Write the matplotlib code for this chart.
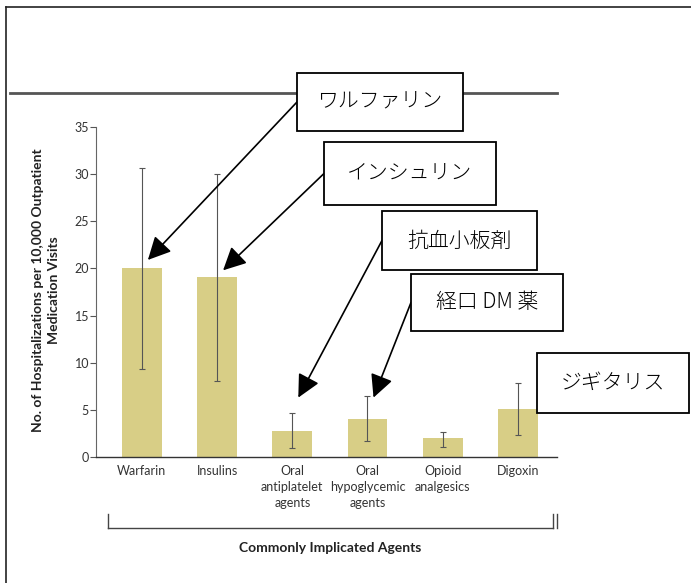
import matplotlib
matplotlib.use("Agg")
import matplotlib.pyplot as plt
from matplotlib.lines import Line2D
from matplotlib.patches import Rectangle

plt.rcParams['font.family'] = ['Lato', 'DejaVu Sans']

# hospitalizations per 10,000 outpatient medication visits
agents = ["Warfarin", "Insulins", "Oral\nantiplatelet\nagents",
          "Oral\nhypoglycemic\nagents", "Opioid\nanalgesics", "Digoxin"]
rates = [20.0, 19.1, 2.8, 4.0, 2.0, 5.1]
ci_low = [9.3, 8.1, 1.0, 1.7, 1.1, 2.3]
ci_high = [30.6, 30.0, 4.7, 6.5, 2.7, 7.8]
yticks = [0, 5, 10, 15, 20, 25, 30, 35]

# japanese callouts: text, box (left, top, right, bottom) in image pixels,
# index of the bar it points to (None = no arrow) and arrow tip height
callouts = ["ワルファリン", "インシュリン", "抗血小板剤", "経口 DM 薬", "ジギタリス"]
callout_boxes = [(297, 73, 463, 131), (324, 142, 496, 205), (382, 211, 537, 270),
                 (411, 274, 563, 331), (537, 353, 689, 413)]
callout_target = [0, 1, 2, 3, None]
callout_tip_y = [20.9, 19.8, 6.3, 6.3, None]

W, H = 691, 583
fig = plt.figure(figsize=(W / 100, H / 100), dpi=100)

def px(x, y):
    # image pixel (top-left origin) -> figure fraction
    return x / W, 1 - y / H

ax = fig.add_axes([96 / W, (H - 457) / H, (557 - 96) / W, (457 - 127) / H])
pos = list(range(len(agents)))
lo = [r - l for r, l in zip(rates, ci_low)]
hi = [h - r for r, h in zip(rates, ci_high)]
ax.bar(pos, rates, width=0.53, color="#d8ce86", zorder=1)
ax.errorbar(pos, rates, yerr=[lo, hi], fmt="none", ecolor="#555555",
            elinewidth=0.8, capsize=2.5, capthick=0.8, zorder=2)

ax.set_xlim(-0.61, 5.52)
ax.set_ylim(0, 35)
ax.set_yticks(yticks)
ax.set_xticks(pos)
ax.set_xticklabels(agents, fontsize=9, color="#333333", linespacing=1.4)
ax.tick_params(axis="x", length=0, pad=6)
ax.tick_params(axis="y", length=4, width=0.8, color="#555555",
               labelsize=9, labelcolor="#333333", pad=1)
for s in ["top", "right"]:
    ax.spines[s].set_visible(False)
ax.spines["left"].set_color("#666666")
ax.spines["left"].set_linewidth(0.8)
ax.spines["bottom"].set_color("#333333")
ax.spines["bottom"].set_linewidth(1.0)

fig.text(*px(46, 290), "No. of Hospitalizations per 10,000 Outpatient\nMedication Visits",
         rotation=90, ha="center", va="center", fontsize=10, fontweight="bold",
         color="#222222", linespacing=1.35)

# bracket under the category labels
bx0, bx1, by, btop = 108, 553, 528, 514
fig.add_artist(Line2D([px(bx0, by)[0], px(bx1, by)[0]], [px(bx0, by)[1]] * 2,
                      color="#444444", lw=1.0))
for x in (bx0, bx1, bx1 + 4):
    fig.add_artist(Line2D([px(x, by)[0]] * 2, [px(x, by)[1], px(x, btop)[1]],
                          color="#444444", lw=1.0))
fig.text(*px(330, 548), "Commonly Implicated Agents", ha="center", va="center",
         fontsize=10, fontweight="bold", color="#222222")

# frame lines and the grey rule across the top
fig.add_artist(Line2D([px(6, 0)[0], 1], [px(0, 7)[1]] * 2, color="#222222", lw=1.2))
fig.add_artist(Line2D([px(6, 0)[0]] * 2, [0, px(0, 7)[1]], color="#222222", lw=1.2))
fig.add_artist(Line2D([px(10, 0)[0], px(557, 0)[0]], [px(0, 93)[1]] * 2,
                      color="#555555", lw=2.0, zorder=1))

jp = ['Noto Sans CJK JP', 'DejaVu Sans']
for text, (l, t, r, b), idx, tip in zip(callouts, callout_boxes, callout_target,
                                        callout_tip_y):
    x0, y1 = px(l, t)
    x1, y0 = px(r, b)
    fig.add_artist(Rectangle((x0, y0), x1 - x0, y1 - y0, transform=fig.transFigure,
                             facecolor="white", edgecolor="black", lw=1.3, zorder=5))
    fig.text((x0 + x1) / 2, (y0 + y1) / 2, text, ha="center", va="center",
             fontsize=15, family=jp, fontweight="light", zorder=6)
    if idx is not None:
        ax.annotate("", xy=(idx + 0.08, tip), xycoords="data",
                    xytext=(x0, (y0 + y1) / 2), textcoords="figure fraction",
                    arrowprops=dict(arrowstyle="-|>,head_length=0.7,head_width=0.35",
                                    mutation_scale=20, color="black", lw=1.2,
                                    shrinkA=0, shrinkB=0),
                    annotation_clip=False, zorder=4)

fig.savefig("out.png", dpi=100)
